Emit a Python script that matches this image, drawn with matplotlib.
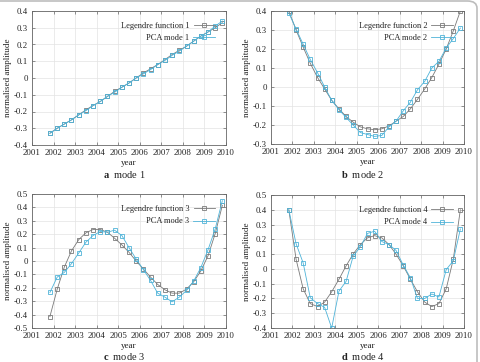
import matplotlib
matplotlib.use("Agg")
import matplotlib.pyplot as plt
from matplotlib.patches import FancyBboxPatch
from matplotlib.ticker import FuncFormatter, MultipleLocator

plt.rcParams['font.family'] = ['Liberation Serif', 'DejaVu Serif']
plt.rcParams['mathtext.fontset'] = 'custom'
plt.rcParams['mathtext.bf'] = 'Liberation Serif:bold'
plt.rcParams['mathtext.rm'] = 'Liberation Serif'

years = [2001.83, 2002.17, 2002.5, 2002.83, 2003.17, 2003.5, 2003.83, 2004.17, 2004.5,
         2004.83, 2005.17, 2005.5, 2005.83, 2006.17, 2006.5, 2006.83, 2007.17, 2007.5,
         2007.83, 2008.17, 2008.5, 2008.83, 2009.17, 2009.5, 2009.83]

leg1 = [-0.33, -0.30, -0.275, -0.25, -0.22, -0.19, -0.165, -0.14, -0.11, -0.08, -0.055, -0.03,
        0.0, 0.03, 0.055, 0.08, 0.11, 0.14, 0.165, 0.19, 0.22, 0.25, 0.275, 0.30, 0.33]
pca1 = [-0.33, -0.30, -0.275, -0.25, -0.22, -0.195, -0.165, -0.14, -0.11, -0.085, -0.055, -0.03,
        0.0, 0.025, 0.05, 0.08, 0.105, 0.135, 0.16, 0.19, 0.22, 0.25, 0.275, 0.31, 0.34]

leg2 = [0.4, 0.3, 0.21, 0.125, 0.05, -0.01, -0.07, -0.115, -0.155, -0.185, -0.21, -0.22,
        -0.225, -0.22, -0.205, -0.18, -0.155, -0.115, -0.065, -0.01, 0.05, 0.12, 0.2, 0.295, 0.4]
pca2 = [0.39, 0.305, 0.225, 0.145, 0.075, 0.0, -0.07, -0.12, -0.16, -0.2, -0.24, -0.25,
        -0.26, -0.255, -0.21, -0.18, -0.125, -0.08, -0.015, 0.03, 0.1, 0.135, 0.205, 0.255, 0.31]

leg3 = [-0.415, -0.21, -0.045, 0.075, 0.16, 0.21, 0.235, 0.235, 0.215, 0.17, 0.12, 0.065,
        0.0, -0.06, -0.12, -0.175, -0.215, -0.24, -0.24, -0.21, -0.155, -0.075, 0.04, 0.205, 0.415]
pca3 = [-0.235, -0.12, -0.085, -0.02, 0.06, 0.14, 0.19, 0.22, 0.215, 0.23, 0.19, 0.1,
        0.015, -0.065, -0.145, -0.24, -0.27, -0.305, -0.27, -0.22, -0.15, -0.05, 0.085, 0.24, 0.45]

leg4 = [0.4, 0.065, -0.135, -0.235, -0.255, -0.225, -0.155, -0.07, 0.02, 0.1, 0.165, 0.21,
        0.225, 0.21, 0.165, 0.1, 0.02, -0.07, -0.155, -0.225, -0.255, -0.235, -0.135, 0.065, 0.4]
pca4 = [0.4, 0.17, 0.04, -0.195, -0.235, -0.26, -0.4, -0.15, -0.085, 0.085, 0.15, 0.24,
        0.255, 0.185, 0.165, 0.125, 0.025, -0.06, -0.2, -0.2, -0.17, -0.19, -0.005, 0.055, 0.27]

legendre = [leg1, leg2, leg3, leg4]
pca = [pca1, pca2, pca3, pca4]
ylims = [(-0.4, 0.4), (-0.3, 0.4), (-0.5, 0.5), (-0.4, 0.5)]
letters = ['a', 'b', 'c', 'd']
x_ticks = list(range(2001, 2011))

W, H = 481, 362
fig = plt.figure(figsize=(W / 100, H / 100), dpi=100)

# rounded outer frame
frame = FancyBboxPatch((-20 / W, -20 / H), (497) / W, (381) / H,
                       boxstyle="round,pad=0,rounding_size=0.02",
                       transform=fig.transFigure, fill=False,
                       edgecolor='#bdbdbd', linewidth=1.2)
fig.patches.append(frame)

# pixel boxes: left, right, top, bottom
boxes = [(32, 226, 11, 145), (271, 464, 11, 144), (32, 226, 194, 328), (271, 464, 195, 328)]
cap_y = [174, 174, 357, 357]

gray = '#7a7a7a'
blue = '#4fb3d8'

def fmt(v, pos):
    if abs(v) < 1e-9:
        return '0'
    return f'{v:.1f}'

for i in range(4):
    l, r, t, b = boxes[i]
    ax = fig.add_axes([l / W, (H - b) / H, (r - l) / W, (b - t) / H])
    ax.plot(years, legendre[i], color=gray, lw=0.6, marker='s', ms=3.2,
            mfc='none', mec=gray, mew=0.6, label=f'Legendre function {i+1}')
    ax.plot(years, pca[i], color=blue, lw=0.6, marker='s', ms=3.2,
            mfc='none', mec=blue, mew=0.6, label=f'PCA mode {i+1}')
    ax.set_xlim(2001, 2010)
    ax.set_ylim(*ylims[i])
    ax.set_xticks(x_ticks)
    ax.set_xticklabels([str(v) for v in x_ticks])
    ax.yaxis.set_major_locator(MultipleLocator(0.1))
    ax.yaxis.set_major_formatter(FuncFormatter(fmt))
    ax.grid(True, color='#e3e3e3', lw=0.5)
    ax.set_axisbelow(True)
    ax.tick_params(direction='in', length=2.5, width=0.5, colors='#666666',
                   labelcolor='#222222', labelsize=6.3, top=True, right=True, pad=3)
    for s in ax.spines.values():
        s.set_color('#666666')
        s.set_linewidth(0.6)
    ax.set_xlabel('year', fontsize=6.5, labelpad=1.5, color='#222222')
    ax.set_ylabel('normalised amplitude', fontsize=6.5, color='#222222', va='center')
    ax.yaxis.set_label_coords(-23.5 / (r - l), 0.5)
    ax.legend(loc='upper right', frameon=False, markerfirst=False, fontsize=6,
              handlelength=2.6, handletextpad=0.5, labelspacing=0.55,
              borderaxespad=0.9, labelcolor='#222222')
    xc = (l + r) / 2 - 5
    fig.text(xc / W, (H - cap_y[i]) / H, r'$\mathbf{' + letters[i] + r'}$' + f'  mode {i+1}',
             ha='center', va='center', fontsize=7.5, color='#222222')

fig.savefig('out.png', dpi=100)
